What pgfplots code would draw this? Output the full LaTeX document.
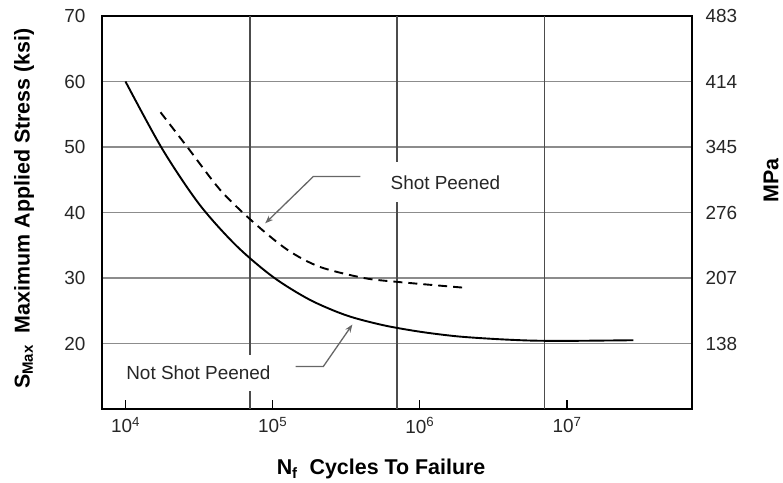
\documentclass[border=0pt]{standalone}
\usepackage{pgfplots}
\pgfplotsset{compat=1.18}
\usepackage{fontspec}
\setmainfont{Liberation Sans}
\usetikzlibrary{arrows.meta}
\pgfplotstableread{
x y
1e4 60
17783 49.7
31623 41.3
56234 35.0
1e5 30.2
177828 26.7
316228 24.3
562341 22.8
1e6 21.8
1778279 21.1
3162278 20.7
5623413 20.45
1e7 20.4
2.818e7 20.5
}\notpeened
\pgfplotstableread{
x y
1.73e4 55.3
2.63e4 50.0
4.42e4 43.4
7.41e4 38.5
1.26e5 34.3
2.09e5 31.7
4.17e5 30.0
7.08e5 29.4
2.04e6 28.5
}\peened
\begin{document}
\begin{tikzpicture}
\begin{axis}[
  name=main,
  scale only axis, width=590bp, height=393bp,
  xmode=log, xmin=6927, xmax=7.06e7,
  ymin=10, ymax=70,
  xtick={1e4,1e5,1e6,1e7},
  xticklabels={10\textsuperscript{4},10\textsuperscript{5},10\textsuperscript{6},10\textsuperscript{7}},
  xminorticks=false,
  extra x ticks={7e4,7e5,7e6},
  extra x tick labels={},
  extra x tick style={xmajorgrids=true, major tick length=0pt,
     major grid style={draw=black!70, line width=1.3bp}},
  ytick={20,30,40,50,60,70},
  yticklabels={20,30,40,50,60,70},
  ymajorgrids=true,
  major grid style={draw=black!45, line width=1.6bp},
  ytick style={draw=none},
  xtick style={draw=black, line width=1.2bp},
  tick pos=left, tick align=inside, major tick length=9bp,
  axis line style={line width=1.8bp},
  tick label style={font=\fontsize{19}{22}\selectfont, text=black!85},
  yticklabel style={xshift=-13bp},
  xticklabel style={yshift=-5bp},
  xlabel={N\textsubscript{f}\ \ Cycles To Failure},
  ylabel={S\textsubscript{Max}\ \ Maximum Applied Stress (ksi)},
  xlabel style={font=\bfseries\fontsize{21.5}{24}\selectfont, at={(axis description cs:0.473,-0.152)}, anchor=center},
  ylabel style={font=\bfseries\fontsize{21.5}{24}\selectfont, at={(axis description cs:-0.132,0.51)}, anchor=center},
]
\addplot[black, line width=1.9bp, smooth] table[x=x,y=y] {\notpeened};
\addplot[black, line width=1.9bp, smooth, dash pattern=on 9bp off 6bp] table[x=x,y=y] {\peened};
\node[fill=white, inner xsep=4bp, inner ysep=13bp, font=\fontsize{19}{22}\selectfont, text=black!85] at (axis cs:1.49e6,44.6) {Shot Peened};
\node[fill=white, inner xsep=4bp, inner ysep=11bp, font=\fontsize{19}{22}\selectfont, text=black!85] at (axis cs:3.13e4,15.5) {Not Shot Peened};
\draw[black!60, line width=1.3bp, -{Stealth[length=8bp,width=6bp]}] (axis cs:3.94e5,45.5) -- (axis cs:1.89e5,45.5) -- (axis cs:8.9e4,38.35);
\draw[black!60, line width=1.3bp, -{Stealth[length=8bp,width=6bp]}] (axis cs:1.43e5,16.5) -- (axis cs:2.21e5,16.5) -- (axis cs:3.48e5,22.9);
\end{axis}
\begin{axis}[
  scale only axis, width=590bp, height=393bp,
  xmode=log, xmin=6927, xmax=7.06e7,
  ymin=10, ymax=70,
  axis x line=none, axis y line*=right,
  axis line style={line width=1.8bp},
  ytick={20,30,40,50,60,70},
  yticklabels={138,207,276,345,414,483},
  ytick style={draw=none},
  tick label style={font=\fontsize{19}{22}\selectfont, text=black!85},
  yticklabel style={xshift=10bp},
  ylabel={MPa},
  ylabel style={font=\bfseries\fontsize{21.5}{24}\selectfont, at={(axis description cs:1.134,0.582)}, anchor=center},
]
\end{axis}
\path (main.south west) ++(-102bp,-74bp) rectangle ++(783bp,483bp);
\end{tikzpicture}
\end{document}
